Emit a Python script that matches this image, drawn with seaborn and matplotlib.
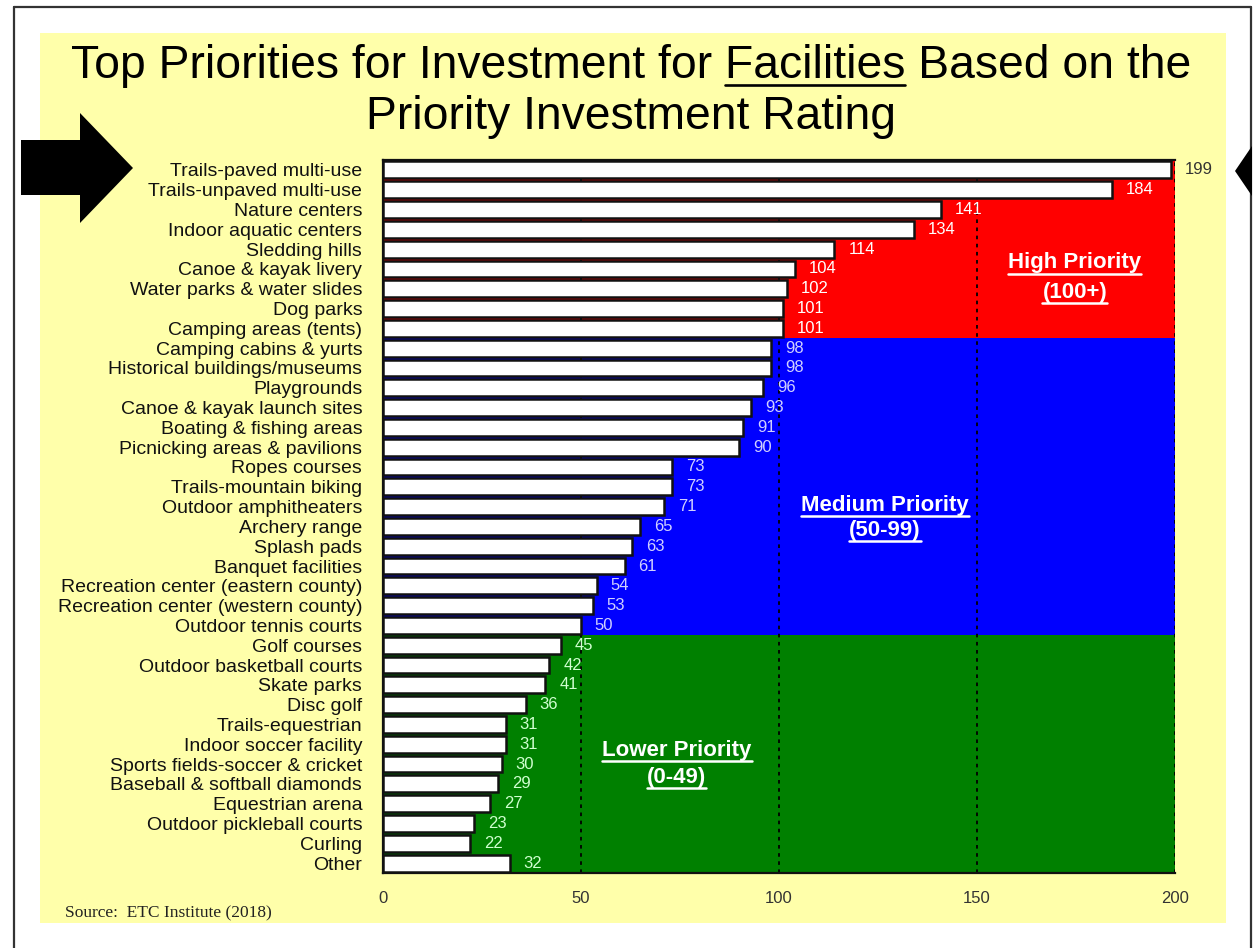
import numpy as np
import pandas as pd
import matplotlib
matplotlib.use("Agg")
import matplotlib.pyplot as plt
import seaborn as sns
from matplotlib.patches import Polygon, Rectangle
from matplotlib.lines import Line2D
from matplotlib.transforms import IdentityTransform

# ---------------- data ----------------
categories = [
    "Trails-paved multi-use", "Trails-unpaved multi-use", "Nature centers",
    "Indoor aquatic centers", "Sledding hills", "Canoe & kayak livery",
    "Water parks & water slides", "Dog parks", "Camping areas (tents)",
    "Camping cabins & yurts", "Historical buildings/museums", "Playgrounds",
    "Canoe & kayak launch sites", "Boating & fishing areas",
    "Picnicking areas & pavilions", "Ropes courses", "Trails-mountain biking",
    "Outdoor amphitheaters", "Archery range", "Splash pads",
    "Banquet facilities", "Recreation center (eastern county)",
    "Recreation center (western county)", "Outdoor tennis courts",
    "Golf courses", "Outdoor basketball courts", "Skate parks", "Disc golf",
    "Trails-equestrian", "Indoor soccer facility",
    "Sports fields-soccer & cricket", "Baseball & softball diamonds",
    "Equestrian arena", "Outdoor pickleball courts", "Curling", "Other",
]
values = [199, 184, 141, 134, 114, 104, 102, 101, 101,
          98, 98, 96, 93, 91, 90, 73, 73, 71, 65, 63, 61, 54, 53, 50,
          45, 42, 41, 36, 31, 31, 30, 29, 27, 23, 22, 32]
group_sizes = [9, 15, 12]
group_names = ["High Priority", "Medium Priority", "Lower Priority"]
group_ranges = ["(100+)", "(50-99)", "(0-49)"]
group_colors = ["#FF0000", "#0000FF", "#008000"]
group_label_colors = ["#FFFFFF", "#D0D0FF", "#D0FFD0"]
tick_values = [0, 50, 100, 150, 200]
tick_labels = ["0", "50", "100", "150", "200"]
title_line1 = "Top Priorities for Investment for Facilities Based on the"
title_line2 = "Priority Investment Rating"
underlined_word = "Facilities"
source_text = "Source:  ETC Institute (2018)"

# ---------------- figure ----------------
sns.set_style("white")
plt.rcParams["font.family"] = ["Liberation Sans", "DejaVu Sans"]

W, H = 1255, 948
fig = plt.figure(figsize=(W / 100, H / 100), dpi=100)
fig.patch.set_facecolor("white")


def fx(px):
    return px / W


def fy(py):
    return 1 - py / H


# yellow panel
fig.patches.append(Rectangle((fx(40), fy(923)), (1226 - 40) / W, (923 - 33) / H,
                             transform=fig.transFigure, facecolor="#FFFFAA",
                             edgecolor="none", zorder=-5))

ax = fig.add_axes([fx(383), fy(873), (1175 - 383) / W, (873 - 160) / H])
ax.set_facecolor("none")

df = pd.DataFrame({"category": categories, "value": values})
sns.barplot(data=df, x="value", y="category", orient="h", color="white",
            edgecolor="#111111", linewidth=1.8, width=0.85, saturation=1,
            zorder=3, ax=ax)

n = len(categories)
ax.set_xlim(0, 200)
ax.set_ylim(n - 0.5, -0.5)

# priority bands
start = 0
group_of = []
for gi, size in enumerate(group_sizes):
    ax.axhspan(start - 0.5, start + size - 0.5, color=group_colors[gi], zorder=0, lw=0)
    group_of += [gi] * size
    start += size

# dashed gridlines
for v in tick_values[1:]:
    ax.axvline(v, color="black", ls=(0, (2, 2.5)), lw=1.3, zorder=1)

# value labels
for i, v in enumerate(values):
    if v + 3.5 + 8 > 200:
        ax.text(v + 3.5, i, str(v), ha="left", va="center", fontsize=12,
                color="#333333", clip_on=False, zorder=5)
    else:
        ax.text(v + 3.5, i, str(v), ha="left", va="center", fontsize=12,
                color=group_label_colors[group_of[i]], zorder=5)

# group labels
group_pos = [(174.7, 4.7, 6.17), (126.8, 16.92, 18.19), (74.2, 29.3, 30.66)]
group_texts = []
for gi, (gx, gy1, gy2) in enumerate(group_pos):
    t1 = ax.text(gx, gy1, group_names[gi], ha="center", va="center", fontsize=16,
                 fontweight="bold", color="white", zorder=6)
    t2 = ax.text(gx, gy2, group_ranges[gi], ha="center", va="center", fontsize=16,
                 fontweight="bold", color="white", zorder=6)
    group_texts += [t1, t2]

# axes styling
ax.set_xticks(tick_values)
ax.set_xticklabels(tick_labels)
ax.set_xlabel("")
ax.set_ylabel("")
ax.tick_params(axis="x", length=0, pad=13, labelsize=12, labelcolor="#333333")
ax.tick_params(axis="y", length=0, pad=15, labelsize=14, labelcolor="#111111")
for side in ["left", "bottom", "top"]:
    ax.spines[side].set_visible(True)
    ax.spines[side].set_color("#111111")
    ax.spines[side].set_linewidth(1.6)
ax.spines["right"].set_visible(False)

# title
tt1 = fig.text(fx(631), fy(78), title_line1, ha="center", va="baseline",
               fontsize=33.3, color="black")
tt2 = fig.text(fx(631), fy(129), title_line2, ha="center", va="baseline",
               fontsize=33.3, color="black")

# source
fig.text(fx(65), fy(913), source_text, ha="left", va="center", fontsize=12.5,
         family=["Liberation Serif", "DejaVu Serif"], color="#222222")

# arrows
left_arrow = [(21, 140), (80, 140), (80, 113), (133, 168), (80, 223), (80, 195), (21, 195)]
fig.patches.append(Polygon([(fx(x), fy(y)) for x, y in left_arrow], closed=True,
                           transform=fig.transFigure, facecolor="black",
                           edgecolor="none", zorder=5))
right_arrow = [(1235, 171), (1252, 146), (1252, 196)]
fig.patches.append(Polygon([(fx(x), fy(y)) for x, y in right_arrow], closed=True,
                           transform=fig.transFigure, facecolor="black",
                           edgecolor="none", zorder=5))

# outer border
for xs, ys in [([14, 14], [7, 948]), ([14, 1251], [7, 7]), ([1251, 1251], [7, 948])]:
    fig.add_artist(Line2D([fx(x) for x in xs], [fy(y) for y in ys],
                          transform=fig.transFigure, color="#333333", lw=1.6))

# underlines
fig.canvas.draw()
r = fig.canvas.get_renderer()
for t in group_texts:
    bb = t.get_window_extent(r)
    fig.add_artist(Line2D([bb.x0, bb.x1], [bb.y0 - 0.5, bb.y0 - 0.5],
                          transform=IdentityTransform(), color="white", lw=1.8))

fp = tt1.get_fontproperties()
idx = title_line1.index(underlined_word)
w_all, _, _ = r.get_text_width_height_descent(title_line1[: idx + len(underlined_word)], fp, ismath=False)
w_f, _, _ = r.get_text_width_height_descent(underlined_word, fp, ismath=False)
bb = tt1.get_window_extent(r)
x_end = bb.x0 + w_all
x_start = x_end - w_f
y_ul = H - 85
fig.add_artist(Line2D([x_start, x_end], [y_ul, y_ul], transform=IdentityTransform(),
                      color="black", lw=1.9))

fig.savefig("out.png", dpi=100)
